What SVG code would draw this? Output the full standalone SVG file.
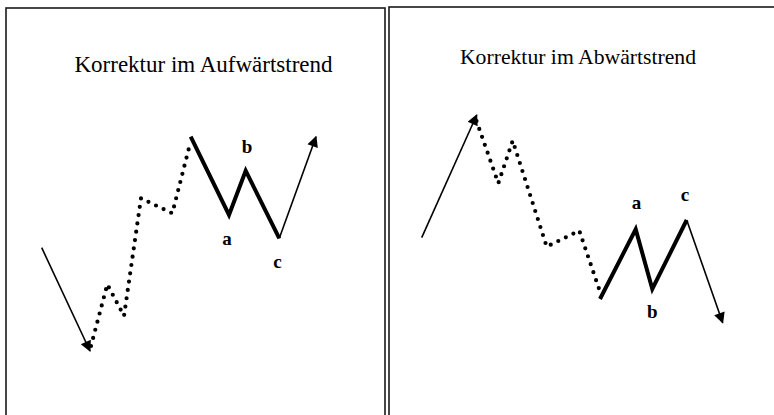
<svg xmlns="http://www.w3.org/2000/svg" width="774" height="415" viewBox="0 0 774 415">
<style>
.frame{fill:none;stroke:#1a1a1a;stroke-width:1.6}
.title{font-family:"Liberation Serif","Times New Roman",serif;fill:#000;text-anchor:middle}
.lbl{font-family:"Liberation Serif","Times New Roman",serif;font-size:19px;font-weight:bold;fill:#000;text-anchor:middle}
.dots{fill:none;stroke:#000;stroke-width:4.2;stroke-linecap:round;stroke-linejoin:round;stroke-dasharray:0 8.4}
.thick{fill:none;stroke:#000;stroke-width:4;stroke-linejoin:miter;stroke-linecap:butt}
.thin{fill:none;stroke:#000;stroke-width:1.6}
</style>
<defs>
<marker id="ahb" viewBox="0 0 10 10" refX="9" refY="5" markerWidth="13" markerHeight="11" markerUnits="userSpaceOnUse" orient="auto">
<path d="M0,0 L10,5 L0,10 z" fill="#000"/>
</marker>
</defs>
<rect width="774" height="415" fill="#fff"/>
<g id="panel-left">
<rect class="frame" x="6" y="8" width="379" height="420"/>
<text class="title" x="203.5" y="72" font-size="23">Korrektur im Aufwärtstrend</text>
</g>
<g id="panel-right">
<rect class="frame" x="389" y="7" width="400" height="420"/>
<text class="title" x="578" y="64" font-size="21.7">Korrektur im Abwärtstrend</text>
</g>
<g id="connectors">
<line class="thin" x1="41.7" y1="247.7" x2="90" y2="351" marker-end="url(#ahb)"/>
<polyline class="dots" points="91,346 107.3,284.3 124,316 141,198.3 172.3,213.3 190,144"/>
<polyline class="thick" points="190.7,136.7 229,215 245.7,170.7 279.3,238.3"/>
<line class="thin" x1="279.3" y1="238.3" x2="316" y2="136.7" marker-end="url(#ahb)"/>

<line class="thin" x1="421.7" y1="237.7" x2="476.7" y2="115" marker-end="url(#ahb)"/>
<polyline class="dots" points="476.5,121 498.3,183.3 512.7,140.7 546.7,246.7 579.3,230.7 600,291.7"/>
<polyline class="thick" points="600,299 635.7,229.3 652.3,289 686.7,220"/>
<line class="thin" x1="686.7" y1="220" x2="722.7" y2="322.7" marker-end="url(#ahb)"/>
</g>
<g id="labels">
<text class="lbl" x="227" y="245">a</text>
<text class="lbl" x="247" y="153">b</text>
<text class="lbl" x="277.5" y="268">c</text>
<text class="lbl" x="636.5" y="209">a</text>
<text class="lbl" x="652.3" y="318">b</text>
<text class="lbl" x="685" y="201">c</text>
</g>
</svg>
